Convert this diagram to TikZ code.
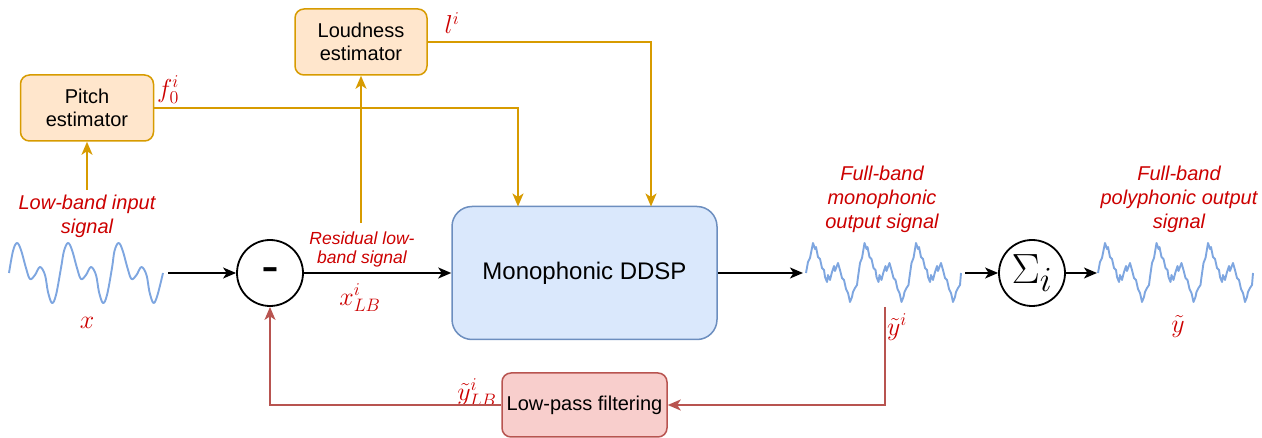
\documentclass[tikz,border=0pt]{standalone}
\usepackage[no-math]{fontspec}
\setmainfont{Liberation Sans}
\usetikzlibrary{arrows.meta,calc}
\definecolor{estfill}{HTML}{FFE6CC}
\definecolor{eststroke}{HTML}{D79B00}
\definecolor{ddspfill}{HTML}{DAE8FC}
\definecolor{ddspstroke}{HTML}{6C8EBF}
\definecolor{lpffill}{HTML}{F8CECC}
\definecolor{lpfstroke}{HTML}{B85450}
\definecolor{lblred}{HTML}{CC0000}
\definecolor{wavecol}{HTML}{7EA6E0}
\newcommand\mlab[1]{\scalebox{1.25}{$#1$}}
\newcommand\noisywave[1]{%
\draw[wave, shift={(#1,0)}] (-7,273) -- (-5,262) -- (-3,258) --
(0,243) -- (2,249) -- (3,247) -- (5,257) -- (7,259) -- (9,268) -- (11,270) -- (12,277) -- (14,282) -- (15,275) -- (17,280) -- (19,272) -- (21,266) -- (22,271) -- (25,263) -- (27,270) -- (29,278) -- (31,280) -- (33,289) -- (35,293) -- (37,302) -- (39,297) -- (40,292) -- (42,288) -- (44,285) -- (45,277) -- (47,263) -- (49,258) --
(51.5,243) -- (53.5,249) -- (54.5,247) -- (56.5,257) -- (58.5,259) -- (60.5,268) -- (62.5,270) -- (63.5,277) -- (65.5,282) -- (66.5,275) -- (68.5,280) -- (70.5,272) -- (72.5,266) -- (73.5,271) -- (76.5,263) -- (78.5,270) -- (80.5,278) -- (82.5,280) -- (84.5,289) -- (86.5,293) -- (88.5,302) -- (90.5,297) -- (91.5,292) -- (93.5,288) -- (95.5,285) -- (96.5,277) -- (98.5,263) -- (100.5,258) --
(103,243) -- (105,249) -- (106,247) -- (108,257) -- (110,259) -- (112,268) -- (114,270) -- (115,277) -- (117,282) -- (118,275) -- (120,280) -- (122,272) -- (124,266) -- (125,271) -- (128,263) -- (130,270) -- (132,278) -- (134,280) -- (136,289) -- (138,293) -- (140,302) -- (142,297) -- (143,292) -- (145,288) -- (147,285) -- (148,273);}
\begin{document}
\begin{tikzpicture}[x=1pt,y=-1pt,
  box/.style={draw, line width=1.5pt, align=center, inner sep=0pt},
  estbox/.style={box, fill=estfill, draw=eststroke, rounded corners=9pt, minimum width=133pt, minimum height=66pt, font=\fontsize{20}{23}\selectfont},
  lbl/.style={text=lblred, font=\fontsize{20}{24}\selectfont\itshape, align=center, inner sep=0pt},
  mlbl/.style={text=lblred, font=\fontsize{20}{20}\selectfont, inner sep=0pt},
  conn/.style={line width=1.8pt, -{Stealth[length=13pt,width=11pt,inset=3.5pt]}},
  oarr/.style={conn, draw=eststroke},
  barr/.style={conn, draw=black},
  rarr/.style={conn, draw=lpfstroke},
  wave/.style={draw=wavecol, line width=1.9pt, line join=round},
  sumnode/.style={circle, draw, line width=1.8pt, minimum size=66pt, inner sep=0pt}
]
\useasboundingbox (0,0) rectangle (1262,438);

% boxes
\node[estbox] (pitch) at (87,108) {Pitch\\estimator};
\node[estbox, minimum width=132pt, minimum height=66pt] (loud) at (361,42) {Loudness\\estimator};
\node[box, fill=ddspfill, draw=ddspstroke, rounded corners=20pt, minimum width=265pt, minimum height=133pt, font=\fontsize{24}{28}\selectfont] (ddsp) at (584.5,273) {Monophonic DDSP};
\node[box, fill=lpffill, draw=lpfstroke, rounded corners=9pt, minimum width=165pt, minimum height=64pt, font=\fontsize{20}{23}\selectfont] (lpf) at (584.5,405) {Low-pass filtering};
\node[sumnode] (minus) at (270,273) {\fontsize{34}{34}\selectfont\scalebox{1.5}[1]{\bfseries -}};
\node[sumnode] (sigma) at (1032,273) {\fontsize{24.88}{25}\selectfont\scalebox{1.7}{$\Sigma_i$}};

% labels
\node[lbl] (lowlbl) at (87,216) {Low-band input\\signal};
\node[lbl, font=\fontsize{17.5}{19}\selectfont\itshape] (reslbl) at (362,249) {Residual low-\\band signal};
\node[lbl] (monolbl) at (882,199) {Full-band\\monophonic\\output signal};
\node[lbl] (polylbl) at (1179,199) {Full-band\\polyphonic output\\signal};
\node[mlbl] (xlbl) at (87,323) {\mlab{x}};
\node[mlbl] (xlblb) at (360,298) {\mlab{x^i_{LB}}};
\node[mlbl] (f0lbl) at (168,90) {\mlab{f^i_0}};
\node[mlbl] (llbl) at (452,23) {\mlab{l^i}};
\node[mlbl] (yilbl) at (897,327) {\mlab{\tilde{y}^i}};
\node[mlbl] (ylbl) at (1178,327) {\mlab{\tilde{y}}};
\node[mlbl] (ylblb) at (477,393) {\mlab{\tilde{y}^i_{LB}}};

% waves
\draw[wave] plot[smooth, tension=0.6] coordinates {(9,273) (13,251) (17,243) (21,250) (26,268) (30,279) (35,275) (40,267) (45,275) (48,292) (52,303) (56,295) (61,268)
(64,251) (68,243) (72,250) (77,268) (81,279) (86,275) (91,267) (96,275) (99,292) (103,303) (107,295) (112,268)
(114.5,251) (118.5,243) (122.5,250) (127.5,268) (131.5,279) (136.5,275) (141.5,267) (146.5,275) (149.5,292) (153.5,303) (157.5,295) (163,273)};
\noisywave{813}
\noisywave{1105}

% coordinates
\coordinate (inend) at (168,273);
\coordinate (pitchin) at (87,190);
\coordinate (loudin) at (361,223);
\coordinate (f0in) at (518,206.5);
\coordinate (lin) at (651,206.5);
\coordinate (wo1in) at (803,273);
\coordinate (wo1out) at (965,273);
\coordinate (wo2in) at (1097,273);
\coordinate (fbstart) at (885,307);

% connectors
\draw[oarr] (pitchin) -- (pitch.south);
\draw[oarr] (loudin) -- (loud.south);
\draw[oarr] (pitch.east) -| (f0in);
\draw[oarr] (loud.east) -| (lin);
\draw[barr] (inend) -- (minus.west);
\draw[barr] (minus.east) -- (ddsp.west);
\draw[barr] (ddsp.east) -- (wo1in);
\draw[barr] (wo1out) -- (sigma.west);
\draw[barr] (sigma.east) -- (wo2in);
\draw[rarr] (fbstart) |- (lpf.east);
\draw[rarr] (lpf.west) -| (minus.south);
\end{tikzpicture}
\end{document}
